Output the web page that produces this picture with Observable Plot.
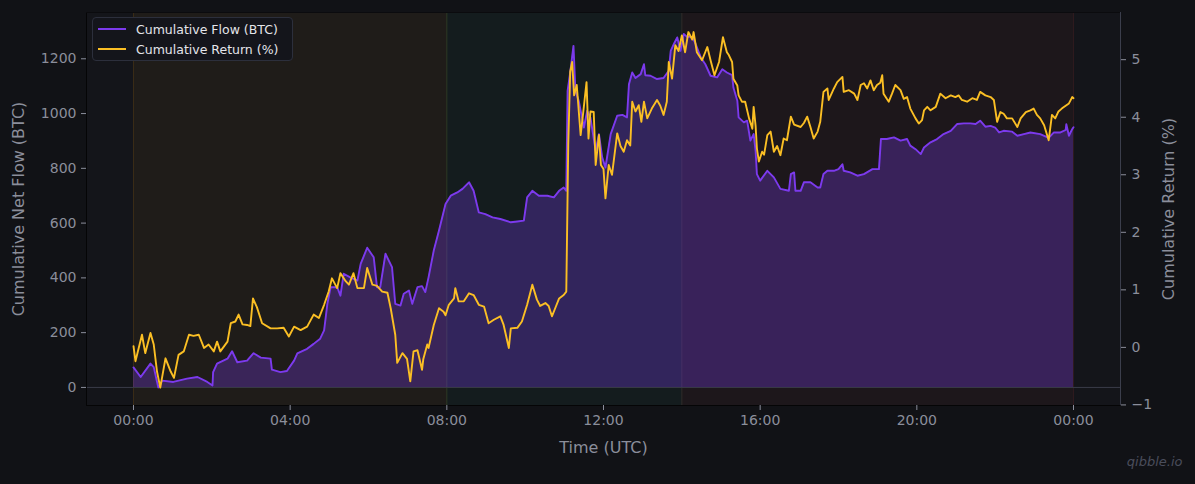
<!DOCTYPE html>
<html>
<head>
<meta charset="utf-8">
<script src="https://cdn.jsdelivr.net/npm/d3@7"></script>
<script src="https://cdn.jsdelivr.net/npm/@observablehq/plot@0.6"></script>
<style>
  html, body { margin: 0; padding: 0; background: #111216; }
  #wrap { position: relative; width: 1195px; height: 484px; }
  #legend {
    position: absolute; left: 92px; top: 17px; width: 199px; height: 42px;
    background: #14151b; border: 1px solid #2c2f3c; border-radius: 4px;
    font-family: "DejaVu Sans", sans-serif; font-size: 12.5px; color: #e4e5ea;
  }
  .row { position: absolute; left: 0; height: 16px; display: flex; align-items: center; }
  .swatch { position: absolute; left: 5px; width: 28px; height: 2px; }
  .lab { position: absolute; left: 43px; white-space: nowrap; }
</style>
</head>
<body>
<div id="wrap">
  <div id="chart"></div>
  <div id="legend">
    <div class="row" style="top:3px"><div class="swatch" style="background:#7c3aed"></div><div class="lab">Cumulative Flow (BTC)</div></div>
    <div class="row" style="top:23px"><div class="swatch" style="background:#fbbf24"></div><div class="lab">Cumulative Return (%)</div></div>
  </div>
</div>
<script>
// ---- data (time in minutes since 00:00 UTC) ----
const flowTime = [0,11,26,31,38,44,61,82,98,113,121,122,128,144,151,159,174,184,195,210,212,225,235,246,251,266,276,286,292,297,302,312,317,322,332,343,348,358,368,373,378,386,396,401,409,414,422,427,435,442,447,452,460,468,478,486,496,504,514,521,529,539,550,562,578,588,598,603,611,621,634,644,652,659,663,665,669,674,677,682,690,695,700,708,713,718,723,731,741,749,756,759,764,769,777,782,784,792,802,812,820,823,828,833,838,843,848,856,861,869,876,884,894,902,909,917,919,925,927,935,940,945,950,953,955,960,971,981,991,1004,1007,1012,1014,1022,1027,1037,1048,1052,1057,1063,1073,1080,1086,1088,1098,1109,1119,1132,1142,1145,1154,1165,1175,1185,1190,1198,1206,1211,1221,1231,1241,1252,1262,1272,1282,1290,1297,1305,1313,1320,1326,1333,1346,1354,1364,1374,1389,1402,1410,1420,1428,1429,1433,1438,1440];
const flowValue = [73,38,87,74,0,25,20,32,38,20,7,56,87,105,132,92,98,125,109,105,65,56,60,98,124,141,159,178,208,305,366,366,335,415,402,390,451,510,475,366,366,488,439,305,299,342,354,305,366,370,348,402,500,573,670,700,712,725,749,718,639,633,621,615,603,606,609,694,718,700,700,694,718,730,718,1083,1150,1247,1083,1047,949,1010,985,864,925,840,803,925,992,995,986,1107,1150,1130,1144,1180,1140,1138,1126,1130,1156,1229,1255,1278,1229,1291,1280,1280,1255,1205,1180,1138,1132,1162,1150,1140,1095,1047,986,968,974,901,925,864,779,755,791,767,725,718,779,785,718,718,749,749,730,730,779,791,791,797,815,791,785,773,779,797,797,907,907,913,901,907,883,870,852,876,895,907,925,937,962,964,964,962,974,952,955,949,931,937,934,919,925,931,925,911,931,931,940,961,919,943,950];

const retTime = [0,3,13,18,26,31,36,41,49,57,62,69,77,85,92,100,108,115,123,128,133,144,149,156,161,167,174,179,183,189,197,210,220,230,238,246,256,266,276,284,292,299,304,312,317,325,330,337,343,353,358,366,373,381,389,394,401,404,412,419,424,429,435,442,444,450,452,460,468,475,478,483,491,493,498,506,514,521,529,537,544,552,562,567,575,578,588,595,603,611,618,623,631,636,641,646,652,659,663,666,669,672,675,679,685,689,694,697,700,705,708,713,716,720,723,728,733,741,746,751,756,761,764,769,774,778,782,787,794,802,807,812,817,820,825,830,835,840,845,850,856,858,863,871,879,884,890,897,903,909,912,917,919,925,927,932,937,943,948,950,953,955,958,963,966,971,976,981,986,991,996,1001,1007,1012,1022,1027,1032,1037,1042,1048,1052,1057,1063,1065,1073,1078,1086,1088,1096,1104,1109,1114,1119,1124,1129,1134,1139,1144,1147,1149,1154,1157,1162,1167,1175,1180,1185,1190,1198,1203,1208,1211,1216,1221,1229,1236,1244,1252,1259,1264,1269,1277,1285,1292,1297,1305,1313,1318,1323,1328,1333,1338,1346,1354,1359,1367,1374,1379,1384,1389,1395,1402,1407,1412,1417,1422,1428,1433,1438,1440];
const retValue = [0.02,-0.24,0.22,-0.1,0.25,0.05,-0.42,-0.7,-0.19,-0.42,-0.53,-0.13,-0.07,0.22,0.2,0.22,-0.01,0.05,-0.07,0.1,-0.07,0.1,0.42,0.45,0.57,0.4,0.39,0.37,0.85,0.7,0.42,0.33,0.33,0.34,0.19,0.36,0.3,0.36,0.57,0.51,0.74,0.97,1.2,1.03,1.29,1.15,1.09,1.29,1.03,1.03,1.38,1.09,1.07,0.97,0.95,0.68,0.22,-0.27,-0.1,-0.2,-0.59,-0.07,-0.05,-0.39,-0.2,0.05,-0.01,0.39,0.68,0.62,0.56,0.74,0.85,1.03,0.8,0.8,0.94,0.91,0.74,0.71,0.42,0.48,0.54,0.39,-0.01,0.33,0.34,0.45,0.74,1.09,0.83,0.72,0.77,0.72,0.54,0.68,0.85,0.91,0.97,3.52,4.79,4.96,4.38,4.56,3.69,4.09,4.61,3.63,4.1,4.09,3.17,3.69,3.17,3.1,2.59,3.17,3.0,3.72,3.5,3.4,3.6,3.51,4.27,4.1,4.21,3.92,4.27,3.98,4.15,4.3,4.2,4.04,4.27,4.96,4.67,5.25,5.15,5.42,5.13,5.48,5.35,5.48,5.13,4.99,5.22,4.99,4.73,4.96,5.39,5.13,5.08,4.96,4.67,4.55,4.38,4.27,4.27,3.98,3.8,4.18,3.85,3.46,3.23,3.4,3.35,3.69,3.75,3.4,3.5,3.34,3.63,3.6,4.01,3.87,3.83,3.9,4.01,3.83,3.63,3.75,3.92,4.44,4.5,4.3,4.5,4.61,4.7,4.44,4.47,4.41,4.3,4.56,4.59,4.5,4.64,4.47,4.56,4.6,4.73,4.41,4.32,4.27,4.41,4.56,4.47,4.32,4.35,4.15,3.98,3.89,3.95,4.12,4.18,4.12,4.18,4.41,4.33,4.38,4.35,4.38,4.3,4.27,4.33,4.3,4.44,4.38,4.35,4.3,3.92,4.09,4.06,3.98,3.98,3.83,3.98,4.09,4.12,4.15,4.04,3.98,3.86,3.6,4.04,3.98,4.1,4.15,4.2,4.24,4.35,4.33];

// session shading
const sessionStart = [0, 480, 840];
const sessionEnd = [480, 840, 1440];
const sessionColor = ["#f59e0b", "#10b981", "#ef4444"];
const sessionAlpha = [0.055, 0.045, 0.045];

// ticks
const xTicks = [0, 240, 480, 720, 960, 1200, 1440];
const xTickLabels = ["00:00", "04:00", "08:00", "12:00", "16:00", "20:00", "00:00"];
const leftTicks = [0, 200, 400, 600, 800, 1000, 1200];
const rightTicks = [-1, 0, 1, 2, 3, 4, 5];

// ---- build ----
const L0 = -66, L1 = 1369;   // left axis domain
const R0 = -1.01, R1 = 5.82; // right axis domain
const toLeft = r => L0 + (r - R0) * (L1 - L0) / (R1 - R0);
const fromLeft = v => R0 + (v - L0) * (R1 - R0) / (L1 - L0);
const minus = v => (v < 0 ? "\u2212" + Math.abs(v) : String(v));

const flow = flowTime.map((t, i) => ({t, v: flowValue[i]}));
const ret = retTime.map((t, i) => ({t, v: retValue[i]}));
const sessions = sessionStart.map((s, i) => ({s, e: sessionEnd[i], c: sessionColor[i], a: sessionAlpha[i]}));

const XD = [-72, 1512];
const grey = "#8b8e9b";

const chart = Plot.plot({
  width: 1195, height: 484,
  marginLeft: 86, marginRight: 75, marginTop: 12, marginBottom: 79,
  style: {background: "#111216", color: grey, fontFamily: "DejaVu Sans, sans-serif", fontSize: "14px"},
  x: {domain: XD},
  y: {domain: [L0, L1]},
  marks: [
    Plot.frame({fill: "#14151a", stroke: null}),
    ...sessions.map(s => Plot.rect([s], {x1: "s", x2: "e", fill: "c", fillOpacity: s.a})),
    Plot.ruleX(sessions, {x: "s", stroke: "c", strokeOpacity: 0.12}),
    Plot.ruleX(sessions, {x: "e", stroke: "c", strokeOpacity: 0.12}),
    Plot.ruleY([0], {x1: XD[0], x2: XD[1], stroke: "#3a3c48", strokeWidth: 1}),
    Plot.areaY(flow, {x: "t", y: "v", fill: "#7c3aed", fillOpacity: 0.3}),
    Plot.lineY(flow, {x: "t", y: "v", stroke: "#7c3aed", strokeWidth: 1.9}),
    Plot.lineY(ret, {x: "t", y: d => toLeft(d.v), stroke: "#fbbf24", strokeWidth: 1.9}),
    Plot.ruleX([XD[0]], {stroke: "#050506"}),
    Plot.ruleY([L0], {stroke: "#050506"}),
    Plot.ruleY([L1], {stroke: "#0b0b0e"}),
    Plot.ruleX([XD[1]], {stroke: "#3b3e4c"}),
    Plot.axisX({ticks: xTicks, tickFormat: (d) => xTickLabels[xTicks.indexOf(d)], label: null, tickSize: 5, tickPadding: 5, fontSize: 14, color: grey}),
    Plot.axisY({ticks: leftTicks, tickFormat: d => String(d), label: null, tickSize: 5, tickPadding: 5, fontSize: 14, color: grey}),
    Plot.axisY({anchor: "right", ticks: rightTicks.map(toLeft), tickFormat: v => minus(Math.round(fromLeft(v))), label: null, tickSize: 5, tickPadding: 6, fontSize: 14, color: grey}),
    Plot.text(["Time (UTC)"], {frameAnchor: "bottom", dy: 42, fontSize: 16, fill: grey, lineAnchor: "middle"}),
    Plot.text(["Cumulative Net Flow (BTC)"], {frameAnchor: "left", dx: -68, rotate: -90, textAnchor: "middle", lineAnchor: "middle", fontSize: 16, fill: grey}),
    Plot.text(["Cumulative Return (%)"], {frameAnchor: "right", dx: 48, rotate: -90, textAnchor: "middle", lineAnchor: "middle", fontSize: 16, fill: grey}),
    Plot.text(["qibble.io"], {frameAnchor: "bottom-right", dx: 62, dy: 60, textAnchor: "end", fontStyle: "italic", fontSize: 13, fill: "#4a4d5b"})
  ]
});
document.getElementById("chart").appendChild(chart);
</script>
</body>
</html>
